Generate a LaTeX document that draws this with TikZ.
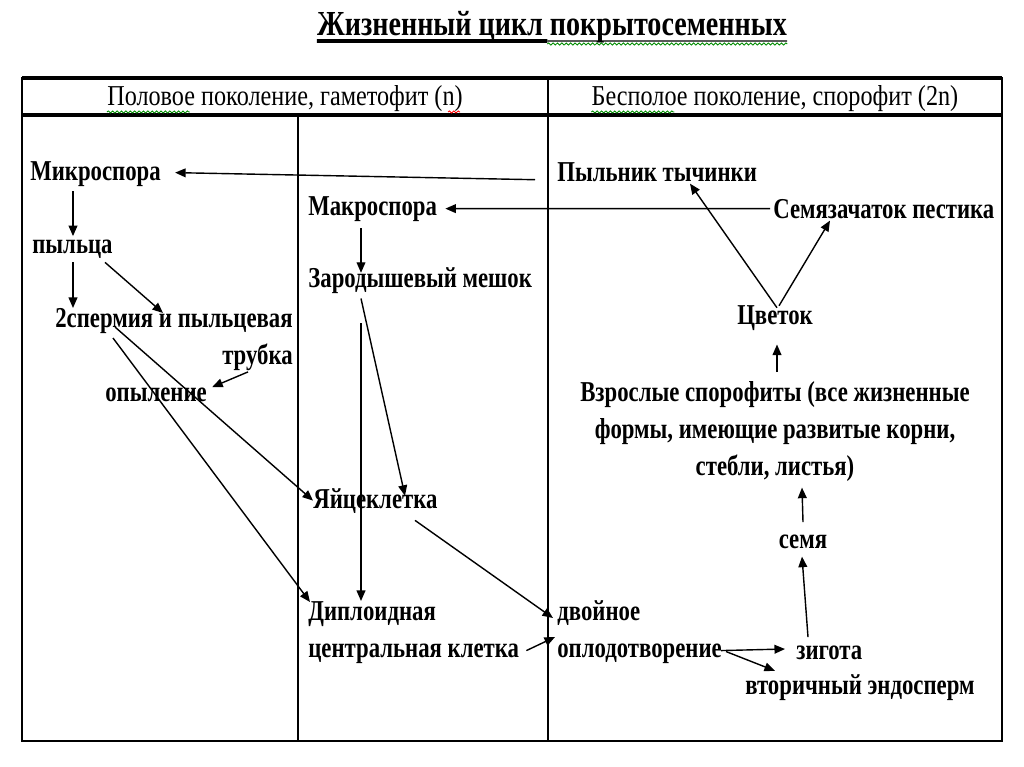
\documentclass[tikz,border=0pt]{standalone}
\usepackage{fontspec}
\setmainfont{Liberation Serif}[FakeStretch=0.79]
\newfontfamily\titlefont{Liberation Serif}[FakeStretch=0.8]
\newfontfamily\headfont{Liberation Serif}[FakeStretch=0.84]
\usetikzlibrary{arrows.meta,calc,decorations.pathmorphing}

\tikzset{
  lbl/.style={inner sep=0pt, font=\fontsize{16.4}{21}\selectfont\bfseries, anchor=base west},
  blk/.style={lbl, anchor=north west, align=left},
  head/.style={inner sep=0pt, font=\headfont\fontsize{16.4}{21}\selectfont, anchor=base},
  arr/.style={-{Triangle[length=6pt,width=5pt]}, line width=0.8pt},
  squig/.style={decorate, decoration={snake, amplitude=0.6pt, segment length=2.5pt}, line width=0.5pt},
}

\begin{document}
\begin{tikzpicture}[x=0.02cm, y=-0.02cm]
  \fill[white] (0,0) rectangle (1024,767);
  \useasboundingbox (0,0) rectangle (1024,767);

  % title
  \node[inner sep=0pt, anchor=base, font=\titlefont\fontsize{20}{24}\selectfont\bfseries] (title) at (552,36) {Жизненный цикл покрытосеменных};
  \draw[line width=2.2pt] ($(title.base west)+(0,5)$) -- ($($(title.base west)!0.49!(title.base east)$)+(0,5)$);
  \draw[line width=0.8pt] ($($(title.base west)!0.49!(title.base east)$)+(0,5)$) -- ($(title.base east)+(0,5)$);
  \draw[squig, green!55!black] ($($(title.base west)!0.49!(title.base east)$)+(0,8)$) -- ($(title.base east)+(0,8)$);

  % table
  \draw[line width=1.4pt] (22,78) rectangle (1002,741);
  \draw[line width=1.8pt] (22,78) -- (1002,78);
  \draw[line width=1.8pt] (22,115) -- (1002,115);
  \draw[line width=1.1pt] (548,78) -- (548,741);
  \draw[line width=0.9pt] (298,115) -- (298,741);

  \node[head] (gam) at (285,106) {Половое поколение, гаметофит (n)};
  \node[head] (spor) at (775,106) {Бесполое поколение, спорофит (2n)};
  \draw[squig, green!55!black] ($(gam.base west)+(0,6)$) -- ++(83,0);
  \draw[squig, red] ($(gam.base east)+(-15,6)$) -- ++(12,0);
  \draw[squig, green!55!black] ($(spor.base west)+(0,6)$) -- ++(83,0);

  % gametophyte
  \node[lbl] (mikro) at (30,180) {Микроспора};
  \node[lbl] (pylca) at (32,253) {пыльца};
  \node[blk, align=right] (sperm) at (55,308) {2спермия и пыльцевая\\трубка};
  \node[lbl] (opyl) at (105,401) {опыление};
  \node[lbl] (makro) at (308,215) {Макроспора};
  \node[lbl] (meshok) at (308,287) {Зародышевый мешок};
  \node[lbl] (yaic) at (313,508) {Яйцеклетка};
  \node[blk] (dipl) at (308,601) {Диплоидная\\центральная клетка};

  % sporophyte
  \node[lbl] (pylnik) at (557,181) {Пыльник тычинки};
  \node[lbl] (semyaz) at (773,218) {Семязачаток пестика};
  \node[lbl, anchor=base] (cvetok) at (775,324) {Цветок};
  \node[blk, anchor=north, align=center] (vzrosl) at (775,381) {Взрослые спорофиты (все жизненные\\формы, имеющие развитые корни,\\стебли, листья)};
  \node[lbl, anchor=base] (semya) at (803,548) {семя};
  \node[blk] (dvoin) at (557,600) {двойное\\оплодотворение};
  \node[lbl] (zigota) at (796,659) {зигота};
  \node[lbl] (endo) at (745,694) {вторичный эндосперм};

  % arrows
  \draw[arr] ($(pylnik.west)+(-22,8)$) -- ($(mikro.east)+(14,-1)$);
  \draw[arr] ($(semyaz.west)+(-3,0)$) -- ($(makro.east)+(8,0)$);
  \draw[arr] ($(mikro.south west)+(43,5)$) -- ($(pylca.north west)+(41,-3)$);
  \draw[arr] ($(pylca.south west)+(41,4)$) -- ($(sperm.north west)+(18,0)$);
  \draw[arr] ($(pylca.south west)+(73,4)$) -- ($(sperm.north west)+(108,5)$);
  \draw[arr] ($(sperm.south east)+(-45,1)$) -- ($(opyl.north east)+(5,0)$);
  \draw[arr] ($(sperm.north west)+(60,19)$) -- (yaic.west);
  \draw[arr] ($(sperm.north west)+(58,30)$) -- ($(dipl.north west)+(2,1)$);
  \draw[arr] ($(makro.south west)+(53,7)$) -- ($(meshok.north west)+(53,6)$);
  \draw[arr] ($(meshok.south west)+(53,5)$) -- ($(yaic.north west)+(92,8)$);
  \draw[arr] ($(meshok.south west)+(53,30)$) -- ($(dipl.north west)+(53,0)$);
  \draw[arr] ($(yaic.south west)+(102,7)$) -- ($(dvoin.north west)+(-4,18)$);
  \draw[arr] ($(dipl.south east)+(7,-13)$) -- ($(dvoin.north west)+(-2,37)$);
  \draw[arr] ($(dvoin.south east)+(-1,-13)$) -- ($(zigota.base west)+(-11,-10)$);
  \draw[arr] ($(dvoin.south east)+(4,-12)$) -- ($(endo.north west)+(30,-3)$);
  \draw[arr] ($(zigota.north west)+(12,-8)$) -- ($(semya.south)+(-1,8)$);
  \draw[arr] ($(semya.north)+(0,-12)$) -- ($(vzrosl.south)+(27,6)$);
  \draw[arr] ($(vzrosl.north)+(2,-9)$) -- ($(cvetok.south)+(2,14)$);
  \draw[arr] ($(cvetok.north)+(2,3)$) -- ($(pylnik.south west)+(133,2)$);
  \draw[arr] ($(cvetok.north)+(4,1)$) -- ($(semyaz.south west)+(57,2)$);
\end{tikzpicture}
\end{document}
